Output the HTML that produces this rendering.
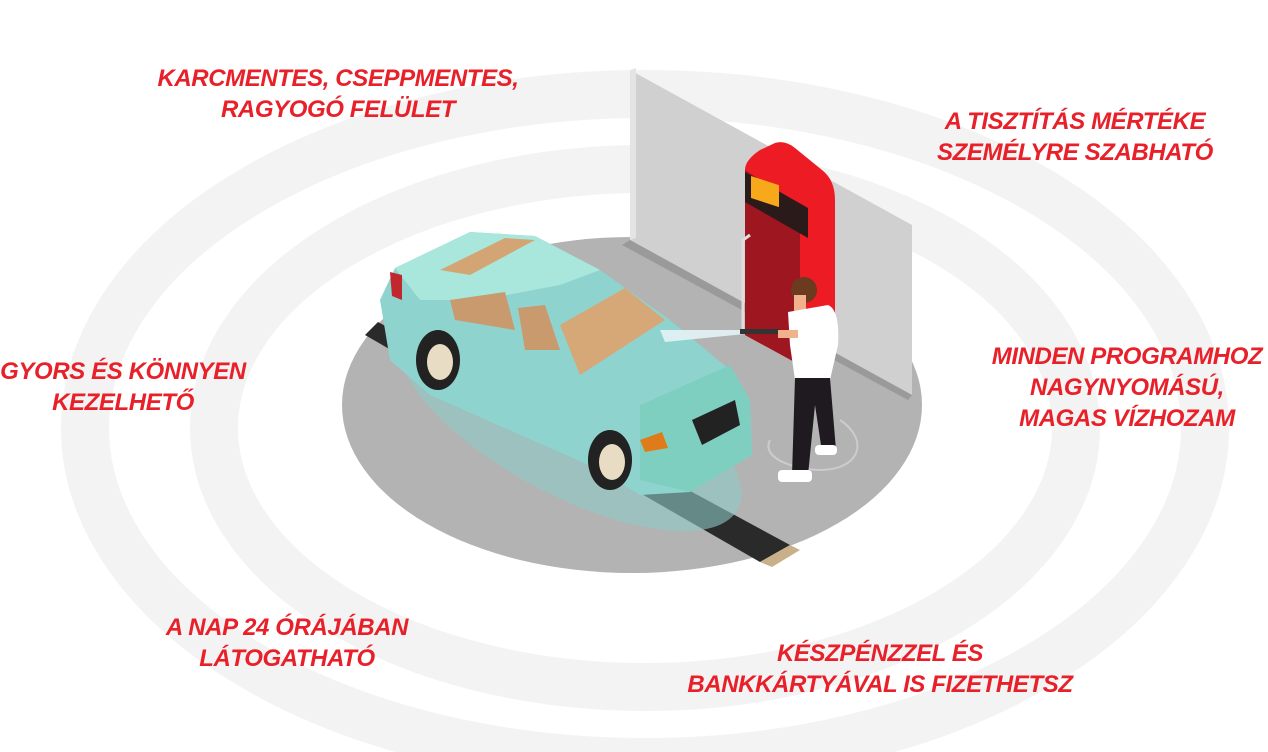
<!DOCTYPE html>
<html><head><meta charset="utf-8"><style>
html,body{margin:0;padding:0;background:#fff;}
#w{position:relative;width:1268px;height:752px;overflow:hidden;background:#fff;}
svg{position:absolute;left:0;top:0;}
.t{position:absolute;font-family:"Liberation Sans",sans-serif;font-weight:bold;font-style:italic;color:#e8202a;font-size:24px;line-height:31px;text-align:center;white-space:nowrap;transform:translateX(-50%);letter-spacing:-0.4px;}
</style></head><body><div id="w">
<svg width="1268" height="752" viewBox="0 0 1268 752">
<ellipse cx="645" cy="428" rx="560" ry="334" fill="none" stroke="#f3f3f3" stroke-width="48"/>
<ellipse cx="645" cy="428" rx="431" ry="259" fill="none" stroke="#f3f3f3" stroke-width="48"/>
<ellipse cx="632" cy="405" rx="290" ry="168" fill="#b3b3b3"/>
<polygon points="365,335 378,322 790,545 760,562" fill="#2a2a2a"/>
<polygon points="760,562 790,545 800,550 772,567" fill="#c9b08a"/>
<polygon points="630,70 912,225 912,395 630,240" fill="#d0d0d0"/>
<polygon points="630,70 636,68 636,238 630,240" fill="#e4e4e4"/>
<polygon points="630,240 912,395 908,400 622,245" fill="#9a9a9a"/>
<path d="M745,170 Q745,160 760,150 L775,143 Q785,140 795,148 L822,170 Q835,180 835,200 L835,345 L800,365 L745,335 Z" fill="#ed1c24"/>
<path d="M745,170 L800,205 L800,365 L745,335 Z" fill="#9e1620"/>
<path d="M745,172 L808,208 L808,238 L745,202 Z" fill="#2a1a1a"/>
<rect x="751" y="177" width="28" height="22" fill="#f7a81b" transform="skewY(18) translate(0,-245)"/>
<polyline points="743,330 743,240 750,235" fill="none" stroke="#ddd" stroke-width="3"/>
<ellipse cx="570" cy="420" rx="190" ry="75" fill="#8ec9c4" opacity="0.6" transform="rotate(28 570 420)"/>
<path d="M380,300 L395,268 L470,232 L535,236 L600,270 L670,320 L730,370 L750,400 L752,455 L690,492 L640,495 L600,470 L430,395 L390,360 Z" fill="#8fd3cf"/>
<path d="M395,268 L470,232 L535,236 L600,270 L560,285 L480,300 L420,300 Z" fill="#a9e6dc"/>
<polygon points="440,270 505,238 535,240 470,275" fill="#d4a574"/>
<polygon points="450,300 505,292 515,330 455,320" fill="#c99a6e"/>
<polygon points="518,308 545,305 560,350 525,350" fill="#c99a6e"/>
<polygon points="560,325 625,288 665,320 580,375" fill="#d6a878"/>
<path d="M640,405 L730,365 L750,400 L752,455 L690,492 L640,480 Z" fill="#7fcfc1"/>
<polygon points="692,420 735,400 740,425 702,445" fill="#222"/>
<polygon points="640,440 662,432 668,448 645,452" fill="#e07b1a"/>
<ellipse cx="610" cy="460" rx="22" ry="30" fill="#222"/>
<ellipse cx="612" cy="462" rx="13" ry="18" fill="#e8dcc4"/>
<ellipse cx="438" cy="360" rx="22" ry="30" fill="#222"/>
<ellipse cx="440" cy="362" rx="13" ry="18" fill="#e8dcc4"/>
<polygon points="390,272 402,275 402,300 392,296" fill="#c0282d"/>
<polygon points="660,330 745,330 745,334 665,342" fill="#e4f3f6" opacity="0.9"/>
<rect x="740" y="329" width="40" height="5" fill="#333"/>
<path d="M770,440 C760,460 800,470 820,470 C860,470 870,440 840,420" fill="none" stroke="#ccc" stroke-width="2"/>
<circle cx="804" cy="290" r="13" fill="#6b3a1f"/>
<rect x="794" y="295" width="12" height="18" fill="#f0b18c"/>
<path d="M788,312 L828,305 Q840,310 838,345 L830,380 L795,380 L790,345 Z" fill="#fff"/>
<rect x="778" y="330" width="20" height="8" fill="#f0b18c"/>
<path d="M795,378 L830,378 L836,450 L822,452 L815,405 L808,475 L792,475 Z" fill="#1e1a1f"/>
<rect x="778" y="470" width="34" height="12" rx="4" fill="#fff"/>
<rect x="815" y="445" width="22" height="10" rx="4" fill="#fff"/>
</svg>
<div class="t" style="left:338px;top:63px">KARCMENTES, CSEPPMENTES,<br>RAGYOGÓ FELÜLET</div>
<div class="t" style="left:1075px;top:106px">A TISZTÍTÁS MÉRTÉKE<br>SZEMÉLYRE SZABHATÓ</div>
<div class="t" style="left:1127px;top:341px">MINDEN PROGRAMHOZ<br>NAGYNYOMÁSÚ,<br>MAGAS VÍZHOZAM</div>
<div class="t" style="left:123px;top:356px">GYORS ÉS KÖNNYEN<br>KEZELHETŐ</div>
<div class="t" style="left:287px;top:612px">A NAP 24 ÓRÁJÁBAN<br>LÁTOGATHATÓ</div>
<div class="t" style="left:880px;top:638px">KÉSZPÉNZZEL ÉS<br>BANKKÁRTYÁVAL IS FIZETHETSZ</div>
</div></body></html>
